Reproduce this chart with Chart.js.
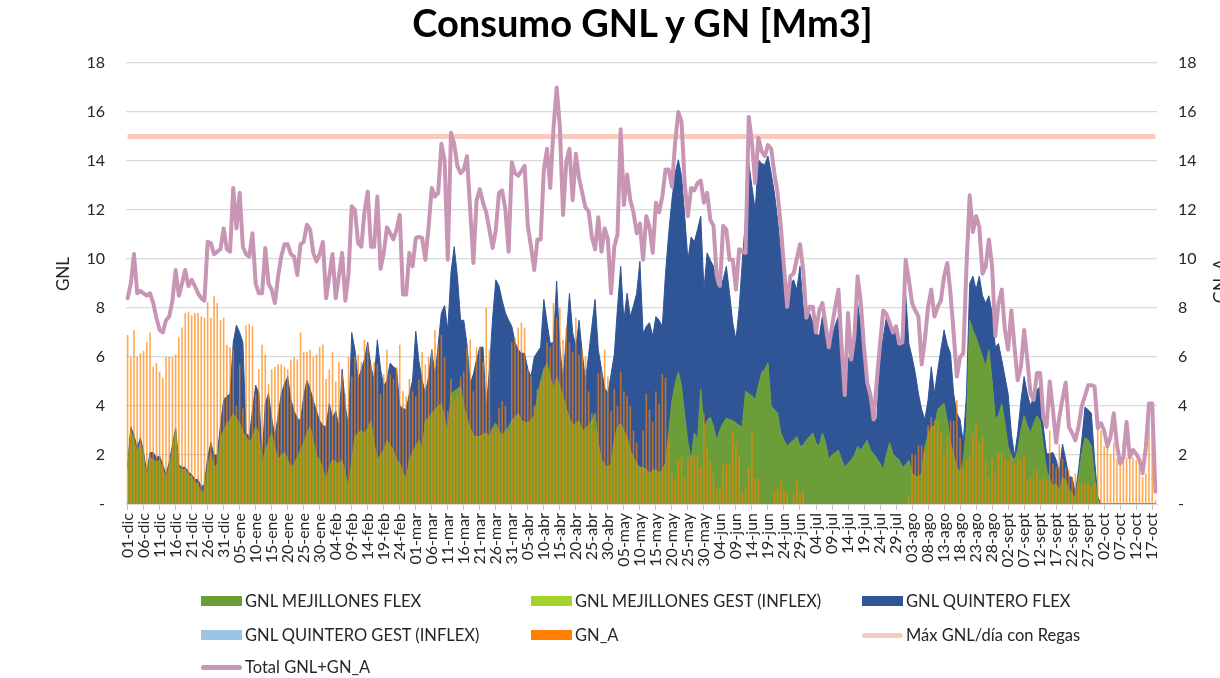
<!DOCTYPE html>
<html>
<head>
<meta charset="utf-8">
<script src="https://cdn.jsdelivr.net/npm/chart.js@4.4.1/dist/chart.umd.min.js"></script>
<style>
html,body{margin:0;padding:0;background:#fff;overflow:hidden;}
#wrap{position:relative;width:1220px;height:678px;overflow:hidden;}
#title{position:absolute;left:0;width:1285px;top:0;text-align:center;font-family:Lato,'Open Sans',sans-serif;font-weight:bold;font-size:38px;line-height:44px;color:#000;}
canvas{position:absolute;left:0;top:0;}
.lt{position:absolute;font-family:Lato,'Open Sans',sans-serif;font-size:16.5px;line-height:20px;color:#262626;white-space:nowrap;}
.sw{position:absolute;}
</style>
</head>
<body>
<div id="wrap">
  <canvas id="c" width="1220" height="678"></canvas>
  <div id="title">Consumo GNL y GN [Mm3]</div>
  <div id="legend"></div>
</div>
<script>
// ---- categories (daily, 01-dic .. 18-oct) ----
const monthNames = ['dic','ene','feb','mar','abr','may','jun','jul','ago','sept','oct'];
const monthDays  = [31,31,28,31,30,31,30,31,31,30,18];
const categories = [];
monthNames.forEach((m, i) => { for (let d = 1; d <= monthDays[i]; d++) categories.push(String(d).padStart(2,'0') + '-' + m); });

// ---- y axis ticks ----
const yTicks = [0,2,4,6,8,10,12,14,16,18];

// ---- series (Mm3) ----
const gnlMejillonesFlex = [
1.4,3.0,2.6,2.1,2.5,1.9,1.0,1.9,1.8,1.7,
1.8,1.4,1.1,1.5,2.2,3.0,1.5,1.4,1.4,1.2,
1.1,0.9,0.8,0.45,0.6,1.5,2.1,1.5,1.6,2.75,
3.0,3.3,3.4,3.7,3.5,3.3,2.9,2.75,2.5,2.7,
3.15,2.9,1.6,2.2,2.5,2.9,2.3,1.8,2.0,2.1,
1.8,1.5,1.65,1.9,2.2,2.5,2.9,3.15,2.6,1.95,
1.8,1.4,1.0,1.5,1.8,1.7,1.65,1.8,1.2,0.7,
1.8,2.75,2.9,3.0,2.85,3.1,3.4,2.5,1.8,2.0,
2.2,2.6,2.4,2.2,1.8,1.65,1.3,1.0,1.8,2.1,
2.35,2.6,2.2,3.4,3.5,3.7,3.85,4.0,4.1,3.5,
2.9,4.5,4.6,4.7,4.8,4.0,3.5,3.1,2.8,2.75,
2.75,2.85,2.9,2.75,3.1,3.3,3.0,2.75,3.0,3.15,
3.4,3.55,3.7,3.4,3.35,3.3,3.45,3.6,4.4,5.0,
5.5,5.75,5.2,4.65,5.2,4.8,4.4,3.9,3.5,3.2,
3.3,3.4,3.0,3.1,3.2,3.4,3.7,2.5,1.8,1.6,
1.5,1.65,2.6,3.15,3.3,3.0,2.75,2.2,1.9,1.65,
1.5,1.5,1.4,1.25,1.35,1.4,1.25,1.4,1.65,2.9,
4.2,4.9,5.4,4.8,3.6,2.5,1.8,2.9,2.6,4.7,
3.15,3.4,3.55,3.15,2.6,3.0,3.3,3.5,3.45,3.4,
3.3,3.2,3.15,4.6,4.5,4.4,4.25,4.8,5.35,5.5,
5.75,4.0,3.85,3.7,2.9,2.6,2.35,2.5,2.6,2.75,
2.35,2.4,2.6,2.75,2.9,2.5,2.35,2.9,2.5,1.8,
2.0,2.1,2.2,1.8,1.5,1.65,1.8,2.0,2.35,2.2,
2.4,2.6,2.2,2.05,1.85,1.65,1.4,2.0,2.5,2.05,
1.9,1.8,1.5,1.6,1.8,1.25,1.15,1.1,1.25,2.35,
2.8,3.15,3.15,3.85,4.0,4.1,3.4,2.5,2.0,1.5,
1.25,1.8,3.15,7.5,7.1,6.8,6.4,6.0,5.6,6.3,
5.0,3.5,3.6,4.1,3.3,2.35,1.95,1.8,2.2,3.0,
3.6,3.2,2.9,3.3,3.6,3.4,2.35,1.4,1.0,0.7,
0.85,0.45,1.1,0.95,0.6,0.45,0.15,1.1,2.05,2.7,
2.6,2.35,1.1,0.2,0,0,0,0,0,0,
0,0,0,0,0,0,0,0,0,0,
0,0
];
const gnlMejillonesGest = [
0,0,0,0,0,0,0,0,0,0,0,0,0,0,0,0,0,0,0,0,0,0,0,0,0,0,0,0,0,0,0,0,0,0,0,0,0,0,0,0,
0,0,0,0,0,0,0,0,0,0,0,0,0,0,0,0,0,0,0,0,0,0,0,0,0,0,0,0,0,0,0,0,0,0,0,0,0,0,0,0,
0,0,0,0,0,0,0,0,0,0,0,0,0,0,0,0,0,0,0,0,0,0,0,0,0,0,0,0,0,0,0,0,0,0,0,0,0,0,0,0,
0,0,0,0,0,0,0,0,0,0,0,0,0,0,0,0,0,0,0,0,0,0,0,0,0,0,0,0,0,0,0,0,0,0,0,0,0,0,0,0,
0,0,0,0,0,0,0,0,0,0,0,0,0,0,0,0,0,0,0,0,0,0,0,0,0,0,0,0,0,0,0,0,0,0,0,0,0,0,0,0,
0,0,0,0,0,0,0,0,0,0,0,0,0,0,0,0,0,0,0,0,0,0,0,0,0,0,0,0,0,0,0,0,0,0,0,0,0,0,0,0,
0,0,0,0,0,0,0,0,0,0,0,0,0,0,0,0,0,0,0,0,0,0,0,0,0,0,0,0,0,0,0,0,0,0,0,0,0,0,0,0,
0,0,0,0,0,0,0,0,0,0,0,0,0,0,0,0,0,0,0,0,0,0,0,0,0,0,0,0,0,0,0,0,0,0,0,0,0,0,0,0,
0,0
];
const gnlQuinteroFlex = [
0.1,0.15,0.2,0.2,0.2,0.2,0.25,0.2,0.3,0.2,
0.15,0.2,0.1,0.2,0.2,0.1,0.1,0.1,0.1,0.1,
0.1,0.1,0.2,0.25,0.2,0.4,0.4,0.5,0.4,0.45,
1.25,1.1,1.1,2.9,3.8,3.7,3.7,0.15,0.25,1.1,
1.7,1.6,0.2,1.9,2.0,0.6,0.45,1.8,2.5,2.8,
3.4,2.75,2.15,1.6,1.2,1.9,2.15,1.55,1.6,1.85,
1.6,1.8,2.15,2.6,1.7,2.1,1.5,3.7,2.8,2.45,
5.2,3.55,2.15,2.5,3.05,3.5,2.2,2.55,4.9,3.5,
2.6,2.45,3.35,3.4,3.7,2.35,2.6,2.85,2.7,2.95,
4.7,3.2,2.85,1.1,1.7,2.6,1.35,2.5,3.7,4.6,
4.2,4.95,5.9,4.6,2.7,3.5,3.0,1.8,2.5,3.15,
3.65,3.55,0.95,2.75,4.5,5.85,5.9,5.55,4.8,4.35,
3.85,3.05,2.6,2.75,2.8,2.2,1.75,2.4,1.8,1.4,
2.85,1.65,1.35,1.95,3.9,1.6,0.65,2.9,5.1,3.8,
3.1,4.1,3.15,1.95,2.9,3.85,4.65,3.8,3.7,3.15,
3.0,3.65,3.5,4.85,6.4,4.5,5.85,5.45,6.2,6.95,
8.4,5.45,5.85,6.15,5.5,6.25,6.25,5.85,7.75,8.15,
8.2,8.6,8.65,8.6,8.15,7.45,9.1,7.8,8.6,7.05,
5.6,6.85,6.4,6.55,6.3,6.0,5.85,6.2,5.15,4.0,
3.4,4.8,6.8,7.0,9.4,8.55,7.75,9.25,8.55,8.35,
8.45,9.5,8.85,7.9,7.35,6.7,6.0,6.5,6.55,6.0,
7.35,5.65,5.05,5.05,4.5,4.5,4.5,4.75,4.5,4.6,
4.8,5.2,5.45,5.0,2.95,4.25,4.35,5.0,5.85,5.0,
4.0,2.3,2.2,1.4,1.6,4.35,5.4,5.65,4.7,4.9,
5.35,5.0,4.9,7.0,4.75,4.75,4.2,3.4,2.6,1.1,
1.45,2.45,1.35,1.6,2.3,3.0,3.1,3.65,2.5,2.2,
2.2,0.7,1.35,1.5,2.2,1.95,2.9,2.5,2.6,2.2,
2.8,2.9,2.95,1.8,1.9,2.15,0.95,0.15,0.7,1.2,
1.6,1.3,1.1,1.1,1.05,1.4,0.8,0.65,1.05,1.4,
0.95,0.8,1.35,0.85,0.5,0.65,0.25,0.3,0.55,1.25,
1.25,1.35,0.7,0.1,0,0,0,0,0,0,
0,0,0,0,0,0,0,0,0,0,
0,0
];
const gnlQuinteroGest = gnlMejillonesGest.slice();
const gnA = [
6.9,6.0,7.1,6.0,6.15,6.25,6.6,7.0,5.6,5.75,
5.4,5.15,6.0,6.0,6.0,6.1,6.8,7.2,7.8,7.85,
7.7,7.8,7.8,7.65,7.6,8.25,7.6,8.5,8.2,7.5,
7.6,6.5,6.4,6.3,4.0,5.7,3.9,7.3,7.35,7.25,
4.5,5.5,6.5,6.1,4.9,5.5,5.6,5.7,5.7,5.6,
5.5,5.9,6.0,5.9,7.0,6.2,6.2,6.3,6.0,6.1,
6.4,6.5,5.1,5.5,6.2,5.0,5.8,5.3,4.5,6.0,
5.2,6.0,6.1,5.8,6.7,6.5,5.7,5.8,5.7,4.5,
5.3,6.3,5.3,5.1,5.6,6.5,4.6,4.4,5.1,4.6,
4.4,5.1,6.2,5.7,6.0,6.3,7.1,6.5,6.9,6.0,
3.8,5.1,4.2,4.5,5.2,5.4,6.4,6.7,4.6,6.4,
6.4,5.8,8.0,6.3,3.1,3.0,3.9,4.2,4.0,3.0,
6.6,6.8,7.2,7.4,7.2,5.5,5.2,4.0,4.7,5.0,
5.5,6.6,6.4,8.2,7.6,8.0,6.7,7.2,6.6,6.2,
7.6,6.1,6.3,6.0,4.6,3.7,3.0,5.35,5.4,6.3,
5.2,3.8,4.7,4.0,5.4,4.6,4.4,4.0,3.0,2.5,
1.5,3.0,4.5,3.85,3.35,4.6,4.1,5.3,5.15,2.75,
1.25,1.0,1.8,1.95,1.1,1.8,1.95,2.0,2.0,1.5,
3.7,2.35,1.75,1.25,0.6,0.65,1.65,1.6,1.65,3.0,
2.45,1.95,0.45,0.7,1.5,3.0,1.05,1.05,0,0,
0,0,0.55,0.6,0.9,0.55,0.55,0,0.4,0.95,
0.4,0.55,0,0,0,0,0,0,0,0,
0,0,0,0,0,0,0,0,0,0,
0,0,0,0,0,0,0,0,0,0,
0,0,0,0,0.3,2.05,2.0,2.4,2.4,2.2,
3.2,3.55,3.4,3.4,2.95,2.05,2.7,3.4,3.4,4.25,
2.7,1.4,1.8,1.95,2.9,3.3,2.5,2.75,1.8,1.1,
1.8,1.25,2.05,2.1,1.8,1.75,2.05,1.65,1.95,1.8,
1.95,1.0,1.1,1.25,1.4,1.0,1.1,1.0,3.0,1.65,
1.5,2.45,1.85,1.5,1.4,1.1,1.25,0.85,0.85,0.85,
0.85,0.7,0.85,3.1,3.0,2.35,2.35,2.05,2.5,1.85,
1.8,2.6,1.9,1.9,1.9,1.8,1.5,1.1,1.25,3.4,
3.85,0.15
];
const maxGnlRegasValue = 15;
const maxGnlRegas = categories.map(() => maxGnlRegasValue);
const totalGnlGnA = [
8.4,9.0,10.2,8.6,8.7,8.6,8.5,8.6,8.2,7.6,
7.1,7.0,7.5,7.65,8.3,9.55,8.5,9.0,9.55,8.9,
9.15,8.9,8.6,8.4,8.3,10.7,10.65,10.2,10.3,10.4,
11.25,10.4,10.3,12.9,11.25,12.7,10.5,10.2,10.1,11.05,
9.0,8.6,8.6,10.45,9.0,8.75,8.2,9.3,10.1,10.6,
10.6,10.2,10.1,9.35,10.6,10.7,11.4,11.2,10.25,9.9,
10.2,10.7,8.4,9.3,10.2,8.4,9.3,10.25,8.3,9.4,
12.15,12.0,10.65,10.5,11.95,12.75,10.5,10.5,12.55,9.6,
10.25,11.3,11.05,10.8,11.2,11.8,8.55,8.55,10.25,9.7,
10.85,10.9,10.85,9.97,11.3,12.9,12.55,12.7,14.7,14.05,
9.97,15.15,14.7,13.8,13.5,13.65,14.2,12.0,9.84,12.4,
12.85,12.3,11.9,11.2,10.45,11.2,12.7,12.8,12.0,10.3,
13.95,13.5,13.4,13.6,13.8,11.35,10.5,9.55,10.8,10.8,
13.65,14.5,12.9,15.3,17.0,15.4,11.8,13.95,14.5,12.4,
14.3,13.3,12.7,12.1,11.95,10.9,10.4,11.7,10.3,11.25,
10.8,8.6,10.5,11.0,15.3,12.2,13.45,12.4,11.9,11.05,
11.45,9.97,11.75,11.3,10.25,12.3,11.9,12.55,13.65,13.65,
12.95,14.75,16.0,15.6,13.1,11.75,12.9,12.8,13.1,13.2,
12.3,12.7,11.6,11.35,9.3,8.9,11.35,11.2,9.97,9.97,
8.75,10.4,10.3,10.25,15.8,14.75,13.1,14.95,14.4,14.2,
14.65,14.5,13.5,12.7,11.35,9.7,8.05,9.3,9.4,10.0,
10.6,9.55,7.6,8.05,8.05,7.0,7.9,8.2,7.3,6.4,
7.25,8.05,8.75,6.4,4.45,7.8,5.9,6.85,9.3,8.2,
6.4,4.95,4.45,3.45,5.05,6.55,7.9,7.75,7.4,7.0,
7.25,6.55,6.6,9.97,9.15,8.2,7.9,7.65,5.7,6.7,
8.05,8.75,7.65,8.05,8.3,9.3,9.84,8.6,6.95,5.2,
6.0,6.15,9.7,12.6,11.1,11.75,11.3,9.4,9.7,10.8,
9.7,6.85,8.2,8.75,7.1,6.3,7.9,6.4,5.05,5.6,
7.1,5.9,4.5,4.25,5.35,5.35,3.55,3.15,5.0,3.85,
2.5,3.55,4.3,4.95,3.15,2.9,2.6,3.15,4.0,4.4,
4.85,4.85,4.8,3.1,3.3,3.0,2.35,2.75,3.7,2.4,
1.65,1.9,3.35,1.9,2.2,2.05,1.8,1.25,2.3,4.1,
4.1,0.5
];

// ---- styling ----
const FONT = "Lato, 'Open Sans', sans-serif";
const TXT = '#262626';
const C_MEJ_FLEX = '#6B9E38', C_MEJ_GEST = '#A5D12B', C_QUI_FLEX = '#2F5597', C_QUI_GEST = '#9DC3E6';
const C_GNA = '#FF8000', C_MAX = '#F8CBBE', C_TOTAL = '#C896B4';

const axisTitles = {
  id: 'axisTitles',
  afterDraw(chart) {
    const ctx = chart.ctx;
    ctx.save();
    ctx.fillStyle = TXT;
    ctx.font = '17px ' + FONT;
    ctx.textAlign = 'center';
    ctx.textBaseline = 'alphabetic';
    ctx.translate(69, 274); ctx.rotate(-Math.PI / 2); ctx.fillText('GNL', 0, 0);
    ctx.restore();
    ctx.save();
    ctx.fillStyle = TXT;
    ctx.font = '17px ' + FONT;
    ctx.textAlign = 'center';
    ctx.textBaseline = 'alphabetic';
    ctx.translate(1226, 281); ctx.rotate(-Math.PI / 2); ctx.fillText('GN_A', 0, 0);
    ctx.restore();
  }
};

const tickFont = { family: FONT, size: 16 };

new Chart(document.getElementById('c'), {
  type: 'bar',
  data: {
    labels: categories,
    datasets: [
      { type: 'line', label: 'GNL MEJILLONES FLEX', data: gnlMejillonesFlex, yAxisID: 'y', stack: 'gnl',
        backgroundColor: C_MEJ_FLEX, borderColor: C_MEJ_FLEX, borderWidth: 1, pointRadius: 0, fill: 'origin', tension: 0, order: 5 },
      { type: 'line', label: 'GNL MEJILLONES GEST (INFLEX)', data: gnlMejillonesGest, yAxisID: 'y', stack: 'gnl',
        backgroundColor: C_MEJ_GEST, borderColor: C_MEJ_GEST, borderWidth: 0, pointRadius: 0, fill: '-1', tension: 0, order: 5 },
      { type: 'line', label: 'GNL QUINTERO FLEX', data: gnlQuinteroFlex, yAxisID: 'y', stack: 'gnl',
        backgroundColor: C_QUI_FLEX, borderColor: C_QUI_FLEX, borderWidth: 1, pointRadius: 0, fill: '-1', tension: 0, order: 5 },
      { type: 'line', label: 'GNL QUINTERO GEST (INFLEX)', data: gnlQuinteroGest, yAxisID: 'y', stack: 'gnl',
        backgroundColor: C_QUI_GEST, borderColor: C_QUI_GEST, borderWidth: 0, pointRadius: 0, fill: '-1', tension: 0, order: 5 },
      { type: 'bar', label: 'GN_A', data: gnA, yAxisID: 'y2',
        backgroundColor: 'rgba(255,128,0,0.68)', barPercentage: 0.5, categoryPercentage: 1, order: 2 },
      { type: 'line', label: 'Máx GNL/día con Regas', data: maxGnlRegas, yAxisID: 'y', stack: 'max',
        borderColor: C_MAX, borderWidth: 5, pointRadius: 0, fill: false, order: 1 },
      { type: 'line', label: 'Total GNL+GN_A', data: totalGnlGnA, yAxisID: 'y', stack: 'total',
        borderColor: C_TOTAL, borderWidth: 4, pointRadius: 0, fill: false, tension: 0,
        borderJoinStyle: 'round', borderCapStyle: 'round', order: 0 }
    ]
  },
  options: {
    responsive: false,
    maintainAspectRatio: false,
    animation: false,
    layout: { padding: { top: 63, left: 0, right: 0, bottom: 0 } },
    plugins: { legend: { display: false }, tooltip: { enabled: false }, title: { display: false } },
    scales: {
      x: {
        offset: true,
        grid: { display: true, drawOnChartArea: false, offset: false, drawTicks: true, tickLength: 6,
                color: (c) => (c.index % 5 === 0 ? '#BFBFBF' : 'rgba(0,0,0,0)') },
        border: { display: true, color: '#D9D9D9' },
        ticks: { autoSkip: false, maxRotation: 90, minRotation: 90, padding: 3, font: tickFont, color: TXT,
                 callback: (v, i) => (i % 5 === 0 ? categories[i] : '') },
        afterFit: (s) => { s.height = 174; }
      },
      y: {
        position: 'left', stacked: true, min: yTicks[0], max: yTicks[yTicks.length - 1],
        afterBuildTicks: (s) => { s.ticks = yTicks.map(v => ({ value: v })); },
        ticks: { padding: 21, font: tickFont, color: TXT, callback: (v) => (v === 0 ? '-' : v) },
        grid: { color: '#D9D9D9', lineWidth: 1.3, drawTicks: false },
        border: { display: false },
        afterFit: (s) => { s.width = 126; }
      },
      y2: {
        position: 'right', min: yTicks[0], max: yTicks[yTicks.length - 1],
        afterBuildTicks: (s) => { s.ticks = yTicks.map(v => ({ value: v })); },
        ticks: { padding: 21, font: tickFont, color: TXT, callback: (v) => (v === 0 ? '-' : v) },
        grid: { display: false, drawTicks: false },
        border: { display: false },
        afterFit: (s) => { s.width = 63; }
      }
    }
  },
  plugins: [axisTitles]
});

// ---- HTML legend (3-column grid, as in the reference) ----
const legendItems = [
  { label: 'GNL MEJILLONES FLEX', color: C_MEJ_FLEX, kind: 'box' },
  { label: 'GNL MEJILLONES GEST (INFLEX)', color: C_MEJ_GEST, kind: 'box' },
  { label: 'GNL QUINTERO FLEX', color: C_QUI_FLEX, kind: 'box' },
  { label: 'GNL QUINTERO GEST (INFLEX)', color: C_QUI_GEST, kind: 'box' },
  { label: 'GN_A', color: C_GNA, kind: 'box' },
  { label: 'Máx GNL/día con Regas', color: C_MAX, kind: 'line' },
  { label: 'Total GNL+GN_A', color: C_TOTAL, kind: 'line' }
];
const colX = [201, 531, 862];
const rowY = [601, 635, 667];
const leg = document.getElementById('legend');
legendItems.forEach((it, i) => {
  const cx = colX[i % 3], cy = rowY[Math.floor(i / 3)];
  const sw = document.createElement('div');
  sw.className = 'sw';
  if (it.kind === 'box') {
    sw.style.cssText = `left:${cx}px;top:${cy - 5}px;width:41px;height:10px;background:${it.color};`;
  } else {
    sw.style.cssText = `left:${cx}px;top:${cy - 2}px;width:41px;height:5px;border-radius:3px;background:${it.color};`;
  }
  leg.appendChild(sw);
  const t = document.createElement('div');
  t.className = 'lt';
  t.style.left = (cx + 44) + 'px';
  t.style.top = (cy - 10) + 'px';
  t.textContent = it.label;
  leg.appendChild(t);
});
</script>
</body>
</html>
